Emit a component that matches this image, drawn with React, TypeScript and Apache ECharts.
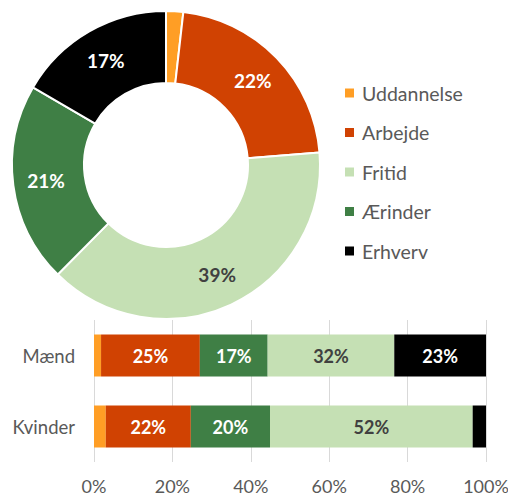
import React, { useEffect, useRef } from "react";
import * as echarts from "echarts";

const pieNames = ["Uddannelse", "Arbejde", "Fritid", "Ærinder", "Erhverv"];
const pieValues = [1.8, 21.9, 38.7, 21.0, 16.6];

const barCategories = ["Mænd", "Kvinder"];
const barSeriesNames = ["Uddannelse", "Arbejde", "Ærinder", "Fritid", "Erhverv"];
const barUddannelse = [1.8, 3.0];
const barArbejde = [25.2, 21.7];
const barAerinder = [17.3, 20.2];
const barFritid = [32.3, 51.7];
const barErhverv = [23.4, 3.4];

const xTicks = [0, 20, 40, 60, 80, 100];

const colors: Record<string, string> = {
  Uddannelse: "#FF9E25",
  Arbejde: "#D04202",
  Fritid: "#C5E0B4",
  Ærinder: "#3F7F45",
  Erhverv: "#000000",
};
const labelColors: Record<string, string> = {
  Uddannelse: "#ffffff",
  Arbejde: "#ffffff",
  Fritid: "#404040",
  Ærinder: "#ffffff",
  Erhverv: "#ffffff",
};

const FONT = "Lato, 'Noto Sans', sans-serif";

export default function App() {
  const ref = useRef<HTMLDivElement>(null);
  useEffect(() => {
    document.body.style.margin = "0";
    const chart = echarts.init(ref.current!, null, { renderer: "svg" });
    const barData = [barUddannelse, barArbejde, barAerinder, barFritid, barErhverv];
    chart.setOption({
      animation: false,
      textStyle: { fontFamily: FONT },
      legend: {
        data: pieNames,
        orient: "vertical",
        left: 345,
        top: 83,
        padding: 0,
        itemWidth: 9,
        itemHeight: 9,
        itemGap: 19.5,
        icon: "rect",
        selectedMode: false,
        textStyle: { fontSize: 19.5, color: "#595959", fontFamily: FONT, padding: [0, 0, 0, 3] },
      },
      grid: { left: 94, right: 22, top: 320, bottom: 35, containLabel: false, outerBoundsMode: "none" },
      xAxis: {
        type: "value",
        min: 0,
        max: 100,
        interval: 20,
        axisLine: { show: false },
        axisTick: { show: false },
        splitLine: { lineStyle: { color: "#d9d9d9", width: 1 } },
        axisLabel: {
          formatter: "{value}%",
          fontSize: 18,
          color: "#595959",
          margin: 15,
          customValues: xTicks,
        },
      },
      yAxis: {
        type: "category",
        data: barCategories,
        inverse: true,
        axisLine: { show: false },
        axisTick: { show: false },
        axisLabel: { fontSize: 18.5, color: "#595959", margin: 19 },
      },
      series: [
        {
          type: "pie",
          center: [166, 165],
          radius: [82, 154],
          startAngle: 90,
          clockwise: true,
          avoidLabelOverlap: false,
          itemStyle: { borderColor: "#ffffff", borderWidth: 2 },
          label: {
            show: true,
            position: "inside",
            fontSize: 19,
            fontWeight: "bold",
            formatter: (p: any) => (p.value > 5 ? Math.round(p.value) + "%" : ""),
          },
          labelLine: { show: false },
          emphasis: { disabled: true },
          data: pieNames.map((n, i) => ({
            name: n,
            value: pieValues[i],
            itemStyle: { color: colors[n] },
            label: { color: labelColors[n] },
          })),
        },
        ...barSeriesNames.map((n, i) => ({
          type: "bar",
          name: n,
          stack: "total",
          barWidth: 42,
          itemStyle: { color: colors[n] },
          label: {
            show: true,
            position: "inside",
            fontSize: 18,
            fontWeight: "bold",
            color: labelColors[n],
            formatter: (p: any) => (p.value > 5 ? Math.round(p.value) + "%" : ""),
          },
          emphasis: { disabled: true },
          data: barData[i],
        })),
      ],
    });
    return () => chart.dispose();
  }, []);
  return <div ref={ref} style={{ width: 508, height: 497 }} />;
}
